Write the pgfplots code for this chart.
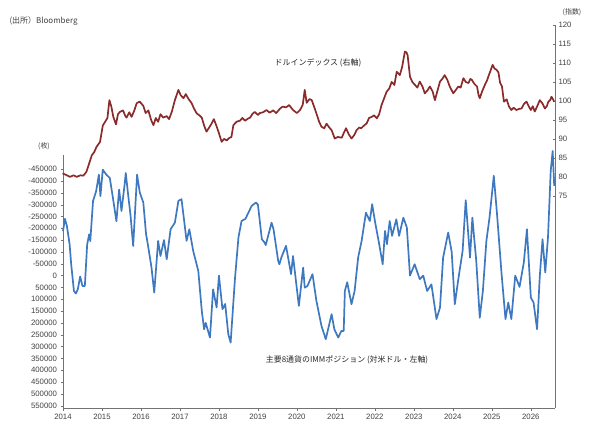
\documentclass[border=0pt]{standalone}
\usepackage{pgfplots}
\pgfplotsset{compat=1.18}
\usepackage{fontspec}
\setmainfont{Liberation Sans}
\newfontfamily\jp{Noto Sans CJK JP}
\definecolor{dxy}{HTML}{8B2A2A}
\definecolor{imm}{HTML}{3E78C0}
\begin{document}
\begin{tikzpicture}
\useasboundingbox (0bp,0bp) rectangle (604bp,433bp);
\pgfplotsset{every axis/.append style={scale only axis, width=492bp, xmin=2014, xmax=2026.62,
  scaled y ticks=false,
  tick label style={font=\fontsize{7.8}{8}\selectfont, text=black!75},
  /pgf/number format/assume math mode=true,
  /pgf/number format/.cd, fixed, set thousands separator={}}}
% left axis: IMM position
\begin{axis}[at={(63bp,25bp)}, anchor=south west, height=253bp,
  y dir=reverse, ymin=-510000, ymax=560000,
  axis x line*=bottom, axis y line*=left,
  ytick={-450000,-400000,...,550000},
  xtick={2014,...,2026},
  xticklabel style={/pgf/number format/1000 sep={}},
  tick align=outside, major tick length=2.5bp,
  axis line style={black!55}, tick style={black!55},
  clip=false]
\addplot[imm, line width=1.7pt, line join=round] coordinates {
(2014.0,-188000)(2014.05,-240000)(2014.1,-210000)(2014.17,-132000)(2014.21,-48000)(2014.28,65000)(2014.33,76000)(2014.38,58000)(2014.44,4000)(2014.5,44000)(2014.56,44000)(2014.62,-132000)(2014.67,-174000)(2014.7,-146000)(2014.77,-315000)(2014.85,-357000)(2014.92,-427000)(2014.96,-336000)(2015.02,-448000)(2015.11,-427000)(2015.2,-413000)(2015.28,-329000)(2015.37,-230000)(2015.44,-364000)(2015.5,-273000)(2015.58,-385000)(2015.61,-434000)(2015.67,-343000)(2015.73,-258000)(2015.8,-125000)(2015.9,-427000)(2015.97,-351000)(2016.06,-309000)(2016.13,-176000)(2016.19,-118000)(2016.27,-34000)(2016.34,72000)(2016.44,-147000)(2016.5,-83000)(2016.59,-150000)(2016.66,-69000)(2016.76,-196000)(2016.87,-224000)(2016.96,-316000)(2017.04,-323000)(2017.17,-147000)(2017.24,-196000)(2017.34,-104000)(2017.47,-20000)(2017.56,149000)(2017.62,227000)(2017.66,200000)(2017.77,262000)(2017.85,58000)(2017.94,135000)(2018.0,0)(2018.09,142000)(2018.16,120000)(2018.24,248000)(2018.3,283000)(2018.41,15000)(2018.5,-161000)(2018.58,-231000)(2018.68,-240000)(2018.84,-295000)(2018.95,-309000)(2019.0,-300000)(2019.1,-154000)(2019.17,-140000)(2019.2,-129000)(2019.35,-224000)(2019.4,-196000)(2019.52,-62000)(2019.55,-48000)(2019.6,-76000)(2019.72,-126000)(2019.85,-6000)(2019.9,-83000)(2020.05,128000)(2020.16,-34000)(2020.2,51000)(2020.27,44000)(2020.4,-6000)(2020.5,107000)(2020.63,213000)(2020.74,269000)(2020.89,163000)(2020.96,227000)(2021.06,262000)(2021.14,234000)(2021.2,234000)(2021.23,65000)(2021.29,28000)(2021.4,121000)(2021.48,65000)(2021.57,-76000)(2021.66,-147000)(2021.77,-266000)(2021.87,-231000)(2021.93,-302000)(2022.0,-231000)(2022.11,-133000)(2022.2,-48000)(2022.26,-189000)(2022.31,-133000)(2022.38,-231000)(2022.44,-168000)(2022.55,-238000)(2022.62,-168000)(2022.73,-245000)(2022.82,-203000)(2022.9,0)(2023.02,-48000)(2023.15,15000)(2023.24,0)(2023.34,65000)(2023.45,37000)(2023.58,184000)(2023.67,135000)(2023.75,-76000)(2023.88,-182000)(2023.97,-100000)(2024.05,121000)(2024.14,15000)(2024.25,-104000)(2024.33,-319000)(2024.44,-76000)(2024.5,-245000)(2024.6,-62000)(2024.69,178000)(2024.77,65000)(2024.86,-147000)(2024.94,-245000)(2025.05,-422000)(2025.13,-266000)(2025.25,-6000)(2025.35,184000)(2025.42,114000)(2025.5,184000)(2025.6,0)(2025.71,48000)(2025.82,-55000)(2025.9,-196000)(2026.0,93000)(2026.07,114000)(2026.16,227000)(2026.23,2000)(2026.3,-154000)(2026.37,-13000)(2026.44,-161000)(2026.51,-443000)(2026.56,-527000)(2026.6,-379000)};
\end{axis}
% right axis: dollar index
\begin{axis}[at={(63bp,25bp)}, anchor=south west, height=383bp,
  ymin=19.1, ymax=120,
  axis x line=none, axis y line*=right,
  ytick={75,80,...,120}, tick align=inside, major tick length=2.5bp,
  yticklabel style={/pgf/number format/int detect},
  axis line style={black!55}, tick style={black!55},
  clip=false]
\addplot[dxy, line width=1.7pt, line join=round] coordinates {
(2013.99,80.9)(2014.08,80.5)(2014.18,80.0)(2014.27,80.4)(2014.35,80.0)(2014.45,80.4)(2014.52,80.3)(2014.6,81.3)(2014.67,83.5)(2014.74,85.7)(2014.8,86.5)(2014.86,87.9)(2014.95,89.2)(2015.02,93.5)(2015.08,94.5)(2015.14,95.5)(2015.19,100.2)(2015.24,98.5)(2015.29,95.8)(2015.36,93.8)(2015.41,96.5)(2015.46,97.1)(2015.54,97.5)(2015.6,96.0)(2015.63,95.6)(2015.7,97.0)(2015.76,95.8)(2015.83,97.5)(2015.89,99.4)(2015.97,99.8)(2016.06,98.7)(2016.12,96.8)(2016.19,97.5)(2016.26,95.0)(2016.32,93.6)(2016.38,95.5)(2016.44,94.5)(2016.5,96.5)(2016.57,95.6)(2016.66,96.0)(2016.72,95.2)(2016.79,97.1)(2016.87,100.2)(2016.96,102.9)(2017.02,101.5)(2017.09,100.7)(2017.15,101.8)(2017.22,100.5)(2017.3,99.4)(2017.36,98.0)(2017.43,96.7)(2017.5,96.2)(2017.56,95.6)(2017.62,93.5)(2017.68,91.9)(2017.75,93.0)(2017.81,94.0)(2017.87,95.2)(2017.94,93.3)(2018.0,91.5)(2018.07,89.2)(2018.13,90.0)(2018.2,89.6)(2018.26,90.2)(2018.32,90.5)(2018.37,93.6)(2018.45,94.5)(2018.54,94.8)(2018.6,95.5)(2018.67,94.8)(2018.74,95.3)(2018.8,95.6)(2018.86,96.6)(2018.92,97.1)(2019.0,96.3)(2019.05,96.8)(2019.13,97.0)(2019.22,97.6)(2019.3,96.9)(2019.39,97.5)(2019.47,96.8)(2019.56,97.9)(2019.63,98.5)(2019.72,98.3)(2019.8,98.9)(2019.9,97.6)(2020.0,96.8)(2020.08,97.6)(2020.15,99.0)(2020.2,102.9)(2020.25,99.5)(2020.32,100.5)(2020.38,100.2)(2020.44,98.5)(2020.5,96.7)(2020.57,94.5)(2020.63,93.2)(2020.7,92.8)(2020.76,94.0)(2020.83,93.0)(2020.89,92.3)(2020.97,90.1)(2021.05,90.5)(2021.15,90.3)(2021.2,91.5)(2021.26,92.8)(2021.33,91.2)(2021.4,90.1)(2021.47,91.0)(2021.53,92.3)(2021.6,93.0)(2021.65,92.8)(2021.72,93.5)(2021.79,94.1)(2021.85,95.5)(2021.92,95.8)(2021.98,96.2)(2022.05,95.4)(2022.11,96.5)(2022.17,98.9)(2022.23,100.5)(2022.3,102.4)(2022.37,103.3)(2022.43,105.0)(2022.5,104.2)(2022.56,107.7)(2022.64,106.8)(2022.7,109.0)(2022.73,110.8)(2022.77,113.0)(2022.81,112.8)(2022.84,112.0)(2022.9,106.4)(2022.96,105.0)(2023.03,104.2)(2023.09,103.5)(2023.15,105.1)(2023.22,103.8)(2023.28,102.0)(2023.35,102.8)(2023.41,103.8)(2023.48,102.5)(2023.54,100.2)(2023.6,102.5)(2023.67,105.1)(2023.73,105.8)(2023.79,106.8)(2023.86,105.5)(2023.92,103.8)(2024.01,102.0)(2024.07,102.8)(2024.14,103.8)(2024.2,103.5)(2024.27,106.0)(2024.33,105.0)(2024.4,104.7)(2024.45,105.8)(2024.49,105.5)(2024.55,104.5)(2024.62,103.8)(2024.66,101.5)(2024.69,100.7)(2024.75,102.5)(2024.82,104.2)(2024.88,105.5)(2024.91,106.4)(2024.96,107.8)(2025.02,109.5)(2025.07,108.5)(2025.12,108.2)(2025.17,107.5)(2025.21,104.8)(2025.26,103.8)(2025.31,99.8)(2025.38,100.4)(2025.44,98.5)(2025.5,97.6)(2025.56,98.2)(2025.63,97.6)(2025.7,97.9)(2025.76,98.0)(2025.83,99.3)(2025.89,99.8)(2025.95,98.5)(2026.0,97.6)(2026.05,98.6)(2026.1,97.2)(2026.16,98.5)(2026.23,100.2)(2026.3,99.3)(2026.36,98.0)(2026.41,98.6)(2026.45,99.8)(2026.5,100.3)(2026.53,101.1)(2026.57,100.4)(2026.6,99.8)};
\end{axis}
\node[anchor=west, font=\fontsize{8}{9}\selectfont\jp, text=black!75] at (6bp,412bp) {(出所）Bloomberg};
\node[font=\fontsize{7}{8}\selectfont\jp, text=black!75] at (44bp,287bp) {(枚)};
\node[font=\fontsize{7}{8}\selectfont\jp, text=black!75] at (572bp,421bp) {(指数)};
\node[font=\fontsize{8}{9}\selectfont\jp, text=black!85] at (318bp,370bp) {ドルインデックス (右軸)};
\node[font=\fontsize{8}{9}\selectfont\jp, text=black!85] at (347bp,73bp) {主要8通貨のIMMポジション (対米ドル・左軸)};
\end{tikzpicture}
\end{document}
